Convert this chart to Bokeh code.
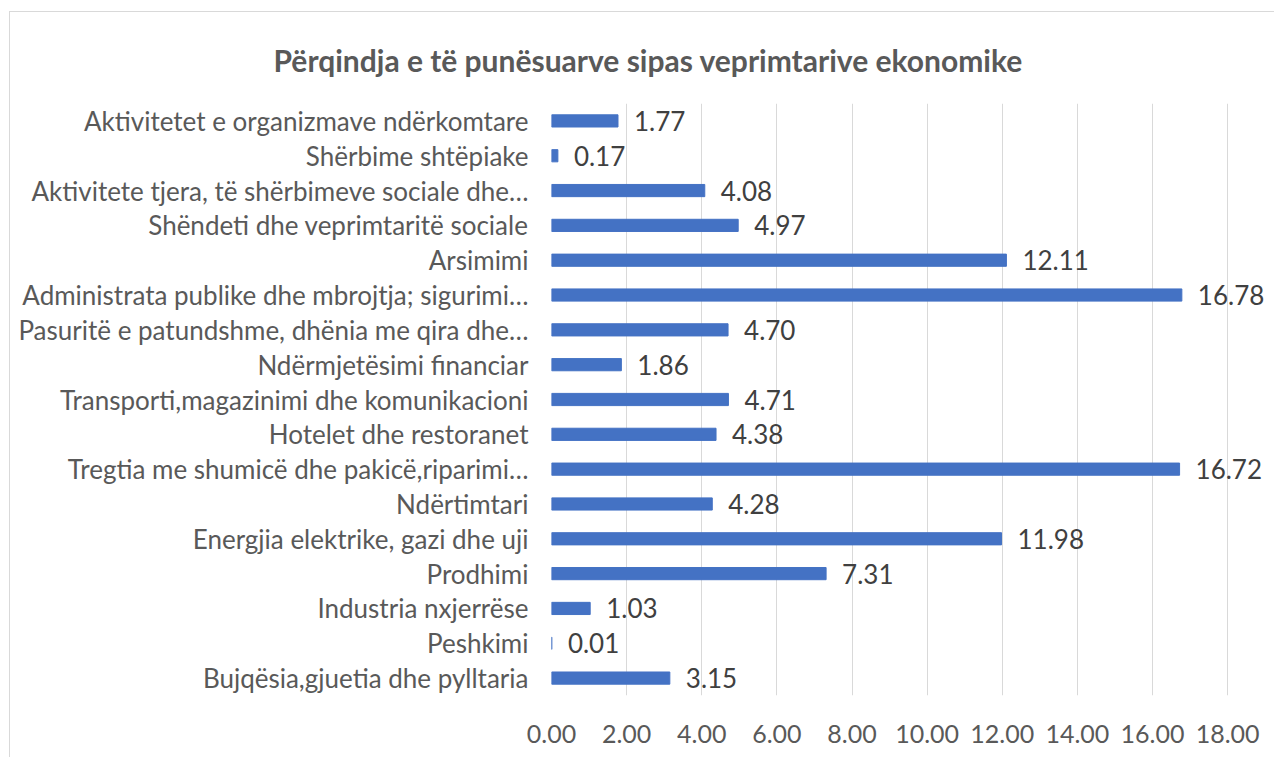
from bokeh.plotting import figure
from bokeh.models import ColumnDataSource, LabelSet, FactorRange, FixedTicker, NumeralTickFormatter, Range1d
from bokeh.embed import file_html
from bokeh.resources import INLINE
from bokeh.core.properties import value

title_text = "Përqindja e të punësuarve sipas veprimtarive ekonomike"

# categories listed top to bottom as in the chart
categories = [
    "Aktivitetet e organizmave ndërkomtare",
    "Shërbime shtëpiake",
    "Aktivitete tjera, të shërbimeve sociale dhe…",
    "Shëndeti dhe veprimtaritë sociale",
    "Arsimimi",
    "Administrata publike dhe mbrojtja; sigurimi…",
    "Pasuritë e patundshme, dhënia me qira dhe…",
    "Ndërmjetësimi financiar",
    "Transporti,magazinimi dhe komunikacioni",
    "Hotelet dhe restoranet",
    "Tregtia me shumicë dhe pakicë,riparimi…",
    "Ndërtimtari",
    "Energjia elektrike, gazi dhe uji",
    "Prodhimi",
    "Industria nxjerrëse",
    "Peshkimi",
    "Bujqësia,gjuetia dhe pylltaria",
]
values = [1.77, 0.17, 4.08, 4.97, 12.11, 16.78, 4.70, 1.86, 4.71, 4.38,
          16.72, 4.28, 11.98, 7.31, 1.03, 0.01, 3.15]
x_ticks = [0, 2, 4, 6, 8, 10, 12, 14, 16, 18]

cats_bu = categories[::-1]
vals_bu = values[::-1]
labs_bu = [f"{v:.2f}" for v in vals_bu]
src = ColumnDataSource(dict(cat=cats_bu, val=vals_bu, lab=labs_bu))

FONT = "Lato"
TXT = "#595959"

p = figure(width=1265, height=746, y_range=FactorRange(*cats_bu),
           x_range=Range1d(0, 19.14), output_backend="svg", toolbar_location=None,
           min_border_left=541, min_border_right=5, min_border_top=91,
           min_border_bottom=63)
p.styles = {"margin-left": "9px", "margin-top": "11px",
            "border-left": "1px solid #d9d9d9", "border-top": "1px solid #d9d9d9"}
p.outline_line_color = None
p.background_fill_color = "white"
p.border_fill_color = "white"

p.title.text = title_text
p.title.align = "left"
p.title.offset = -278
p.title.standoff = 51
p.title.text_font = FONT
p.title.text_font_size = "30px"
p.title.text_font_style = "bold"
p.title.text_color = TXT

p.hbar(y="cat", right="val", height=0.35, left=0, color="#4472C4", source=src)

p.ygrid.grid_line_color = None
p.xgrid.grid_line_color = "#d9d9d9"
p.xgrid.grid_line_width = 1

p.xaxis.ticker = FixedTicker(ticks=x_ticks)
p.xaxis.formatter = NumeralTickFormatter(format="0.00")
for ax in (p.xaxis, p.yaxis):
    ax.axis_line_color = None
    ax.major_tick_line_color = None
    ax.minor_tick_line_color = None
    ax.major_label_text_font = FONT
    ax.major_label_text_color = TXT
p.xaxis.major_label_text_font_size = "25px"
p.xaxis.major_label_standoff = 23
p.yaxis.major_label_text_font_size = "26px"
p.yaxis.major_label_standoff = 17

labels = LabelSet(x="val", y="cat", text="lab", x_offset=16, source=src,
                  text_baseline="middle", text_align="left",
                  text_font=value(FONT), text_font_size="26px",
                  text_color="#404040")
p.add_layout(labels)

open("out.html", "w").write(file_html(p, INLINE))
